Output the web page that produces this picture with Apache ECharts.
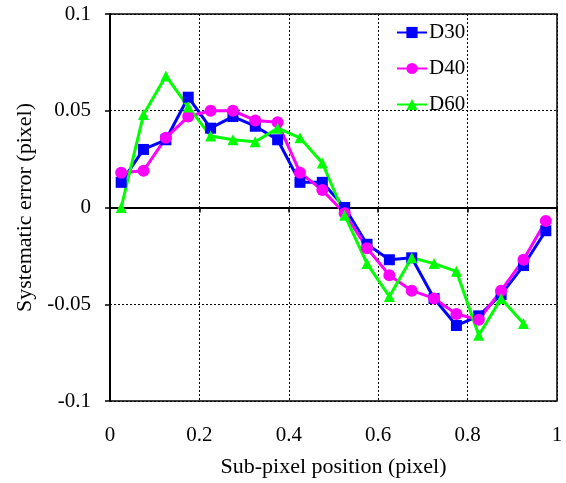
<!DOCTYPE html>
<html><head><meta charset="utf-8">
<script src="https://cdn.jsdelivr.net/npm/echarts@6/dist/echarts.min.js"></script>
<style>html,body{margin:0;padding:0;background:#fff}#c{width:566px;height:483px}</style>
</head><body><div id="c"></div>
<script>
const xs30 = [0.025,0.075,0.125,0.175,0.225,0.275,0.325,0.375,0.425,0.475,0.525,0.575,0.625,0.675,0.725,0.775,0.825,0.875,0.925,0.975];
const d30 = [0.013,0.030,0.035,0.057,0.041,0.047,0.042,0.035,0.013,0.013,0.000,-0.019,-0.027,-0.026,-0.047,-0.061,-0.056,-0.045,-0.030,-0.012];
const d40 = [0.018,0.019,0.036,0.047,0.050,0.050,0.045,0.044,0.018,0.009,-0.003,-0.021,-0.035,-0.043,-0.047,-0.055,-0.058,-0.043,-0.027,-0.007];
const xs60 = [0.025,0.075,0.125,0.175,0.225,0.275,0.325,0.375,0.425,0.475,0.525,0.575,0.625,0.675,0.725,0.775,0.825,0.875,0.925];
const d60 = [0.000,0.048,0.068,0.052,0.037,0.035,0.034,0.041,0.036,0.023,-0.004,-0.029,-0.046,-0.026,-0.029,-0.033,-0.066,-0.047,-0.060];
const seriesNames = ['D30','D40','D60'];
const xTicks = [0,0.2,0.4,0.6,0.8,1];
const yTicks = [-0.1,-0.05,0,0.05,0.1];

const pair = (xs, ys) => xs.map((x, i) => [x, ys[i]]);
const font = 'Liberation Serif';
const chart = echarts.init(document.getElementById('c'));
const mk = (name, data, color, symbol, size) => ({
  name, type: 'line', data, symbol, symbolSize: size,
  lineStyle: {color, width: 3}, itemStyle: {color},
  animation: false
});
chart.setOption({
  animation: false,
  grid: {left: 110, right: 9, top: 14, bottom: 82, show: true, borderColor: '#000', borderWidth: 1.5},
  legend: {
    orient: 'vertical', left: 391, top: 17, itemGap: 15, itemWidth: 30, itemHeight: 14,
    textStyle: {fontFamily: font, fontSize: 21, color: '#000', padding: [0, 0, 0, -3]},
    data: seriesNames
  },
  xAxis: {
    type: 'value', min: 0, max: 1, interval: 0.2,
    name: 'Sub-pixel position (pixel)', nameLocation: 'middle', nameGap: 55,
    nameTextStyle: {fontFamily: font, fontSize: 22, color: '#000'},
    axisLine: {lineStyle: {color: '#000', width: 2}},
    axisTick: {show: true, length: 5, lineStyle: {color: '#000', width: 1.5}},
    axisLabel: {fontFamily: font, fontSize: 21, color: '#000', margin: 24,
      formatter: v => xTicks.includes(+v.toFixed(2)) ? String(+v.toFixed(2)) : ''},
    splitLine: {show: true, lineStyle: {color: '#000', type: [2, 2], width: 1}}
  },
  yAxis: {
    type: 'value', min: -0.1, max: 0.1, interval: 0.05,
    name: 'Systematic error (pixel)', nameLocation: 'middle', nameGap: 72,
    nameTextStyle: {fontFamily: font, fontSize: 22, color: '#000'},
    axisLine: {show: true, lineStyle: {color: '#000', width: 2}},
    axisTick: {show: true, length: 5, lineStyle: {color: '#000', width: 1.5}},
    axisLabel: {fontFamily: font, fontSize: 21, color: '#000', margin: 19,
      formatter: v => yTicks.includes(+v.toFixed(2)) ? String(+v.toFixed(2)) : ''},
    splitLine: {show: true, lineStyle: {color: '#000', type: [2, 2], width: 1}}
  },
  series: [
    mk(seriesNames[0], pair(xs30, d30), '#0000ff', 'rect', 11),
    mk(seriesNames[1], pair(xs30, d40), '#ff00ff', 'circle', 12),
    mk(seriesNames[2], pair(xs60, d60), '#00ff00', 'triangle', 11)
  ]
});
</script></body></html>
